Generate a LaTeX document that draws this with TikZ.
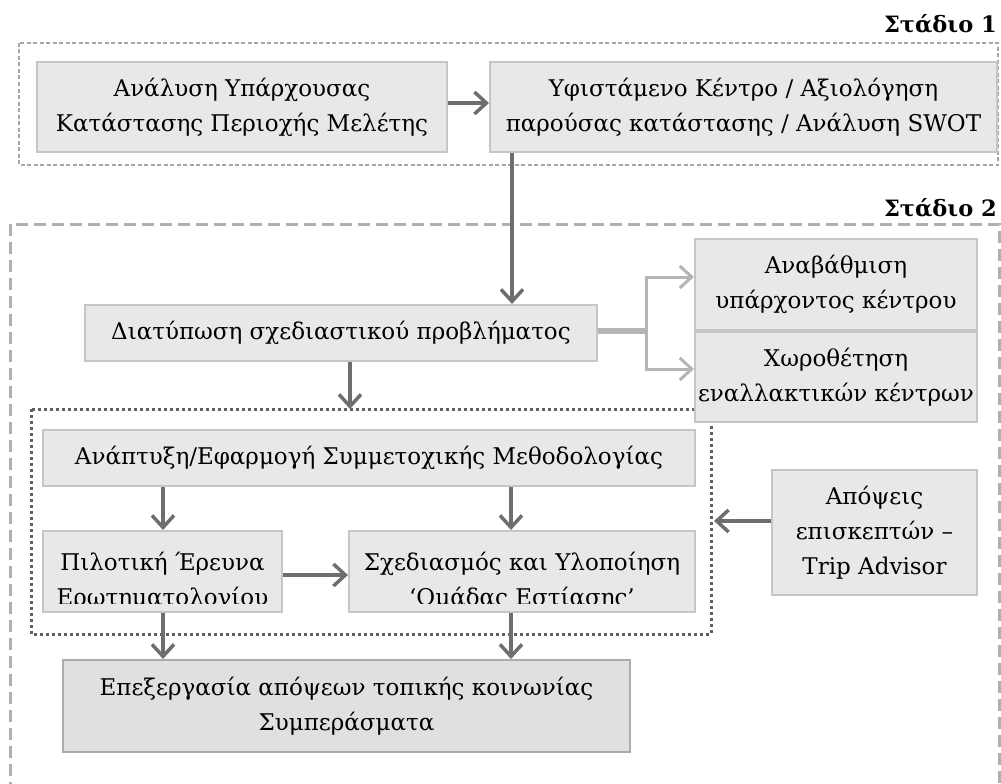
\documentclass[tikz,border=0pt]{standalone}
\usepackage{fontspec}
\setmainfont{DejaVu Serif}
\usetikzlibrary{arrows.meta}
\definecolor{boxfill}{HTML}{E8E8E8}
\definecolor{boxline}{HTML}{C6C6C6}
\definecolor{boxfillB}{HTML}{E0E0E0}
\definecolor{boxlineB}{HTML}{ABABAB}
\definecolor{arrcol}{HTML}{6E6E6E}
\definecolor{brcol}{HTML}{B5B5B5}
\definecolor{stageA}{HTML}{A6A6A6}
\definecolor{stageB}{HTML}{B0B0B0}
\definecolor{dotcol}{HTML}{606060}
\tikzset{
  box/.style={draw=boxline, fill=boxfill, line width=2pt, align=center, inner sep=0pt,
    font=\fontsize{23}{35}\selectfont},
  boxdark/.style={box, draw=boxlineB, fill=boxfillB},
  txt/.style={align=center, inner sep=0pt, font=\fontsize{23}{35}\selectfont},
  arr/.style={draw=arrcol, line width=4pt, -{Straight Barb[length=12pt,width=22pt,line width=3.5pt]}},
  brarr/.style={draw=brcol, line width=3pt, -{Straight Barb[length=12pt,width=22pt,line width=3pt]}},
  stagelabel/.style={anchor=base east, inner sep=0pt, font=\fontsize{22.5}{26}\selectfont\bfseries},
  frameA/.style={draw=stageA, line width=1.4pt, dash pattern=on 4pt off 2.5pt},
  frameB/.style={draw=stageB, line width=3pt, dash pattern=on 12pt off 6pt},
  frameC/.style={draw=dotcol, line width=3pt, dash pattern=on 3pt off 3pt}
}
\begin{document}
\begin{tikzpicture}[x=1pt,y=-1pt]
\useasboundingbox (0,0) rectangle (1001,784);
% stage frames
\draw[frameA] (19,43) rectangle (998,165);
\node[stagelabel] (lab1) at (997,33) {Στάδιο 1};
\draw[frameB] (10,224) rectangle (999,810);
\node[stagelabel] (lab2) at (997,216) {Στάδιο 2};
\draw[frameC] (31,409) rectangle (711,634);
% boxes
\node[box, minimum width=410pt, minimum height=90pt] (A) at (242,107) {Ανάλυση Υπάρχουσας\\Κατάστασης Περιοχής Μελέτης};
\node[box, minimum width=507pt, minimum height=90pt] (B) at (743.5,107) {Υφιστάμενο Κέντρο / Αξιολόγηση\\παρούσας κατάστασης / Ανάλυση SWOT};
\node[box, minimum width=512pt, minimum height=56pt] (D) at (341,333) {Διατύπωση σχεδιαστικού προβλήματος};
\node[box, minimum width=282pt, minimum height=91pt] (U) at (836,284.5) {Αναβάθμιση\\υπάρχοντος κέντρου};
\node[box, minimum width=282pt, minimum height=90pt] (C) at (836,377) {Χωροθέτηση\\εναλλακτικών κέντρων};
\node[box, minimum width=652pt, minimum height=56pt] (E) at (369,458) {Ανάπτυξη/Εφαρμογή Συμμετοχικής Μεθοδολογίας};
\node[box, minimum width=239pt, minimum height=81pt] (P) at (162.5,571.5) {};
\node[box, minimum width=346pt, minimum height=81pt] (S) at (522,571.5) {};
\begin{scope}
  \clip (44,532) rectangle (281,603);
  \node[txt] (Pt) at (162.5,581) {Πιλοτική Έρευνα\\Ερωτηματολογίου};
\end{scope}
\begin{scope}
  \clip (350,532) rectangle (694,603);
  \node[txt] (St) at (522,581) {Σχεδιασμός και Υλοποίηση\\‘Ομάδας Εστίασης’};
\end{scope}
\node[box, minimum width=205pt, minimum height=125pt] (V) at (874.5,532.5) {Απόψεις\\επισκεπτών –\\Trip Advisor};
\node[boxdark, minimum width=567pt, minimum height=92pt] (F) at (346.5,706) {Επεξεργασία απόψεων τοπικής κοινωνίας\\Συμπεράσματα};
% helper coordinates
\coordinate (xB) at (512,0);
\coordinate (xD) at (350,0);
\coordinate (xL) at (163,0);
\coordinate (xR) at (511,0);
\coordinate (br) at (646,331);
\coordinate (yU) at (0,277);
\coordinate (yC) at (0,369);
\coordinate (dtop) at (350,409);
\coordinate (dright) at (714,521);
% connectors
\draw[arr] ([yshift=4pt]A.east) -- ([yshift=4pt]B.west);
\draw[arr] (B.south -| xB) -- (D.north -| xB);
\draw[arr] (D.south -| xD) -- (dtop);
\draw[draw=brcol, line width=6pt] (D.east |- br) -- (br);
\draw[brarr] (br) |- (U.west |- yU);
\draw[brarr] (br) |- (C.west |- yC);
\draw[arr] (E.south -| xL) -- (P.north -| xL);
\draw[arr] (E.south -| xR) -- (S.north -| xR);
\draw[arr] ([yshift=-3.5pt]P.east) -- ([yshift=-3.5pt]S.west);
\draw[arr] (V.west |- dright) -- (dright);
\draw[arr] (P.south -| xL) -- (F.north -| xL);
\draw[arr] (S.south -| xR) -- (F.north -| xR);
\end{tikzpicture}
\end{document}
